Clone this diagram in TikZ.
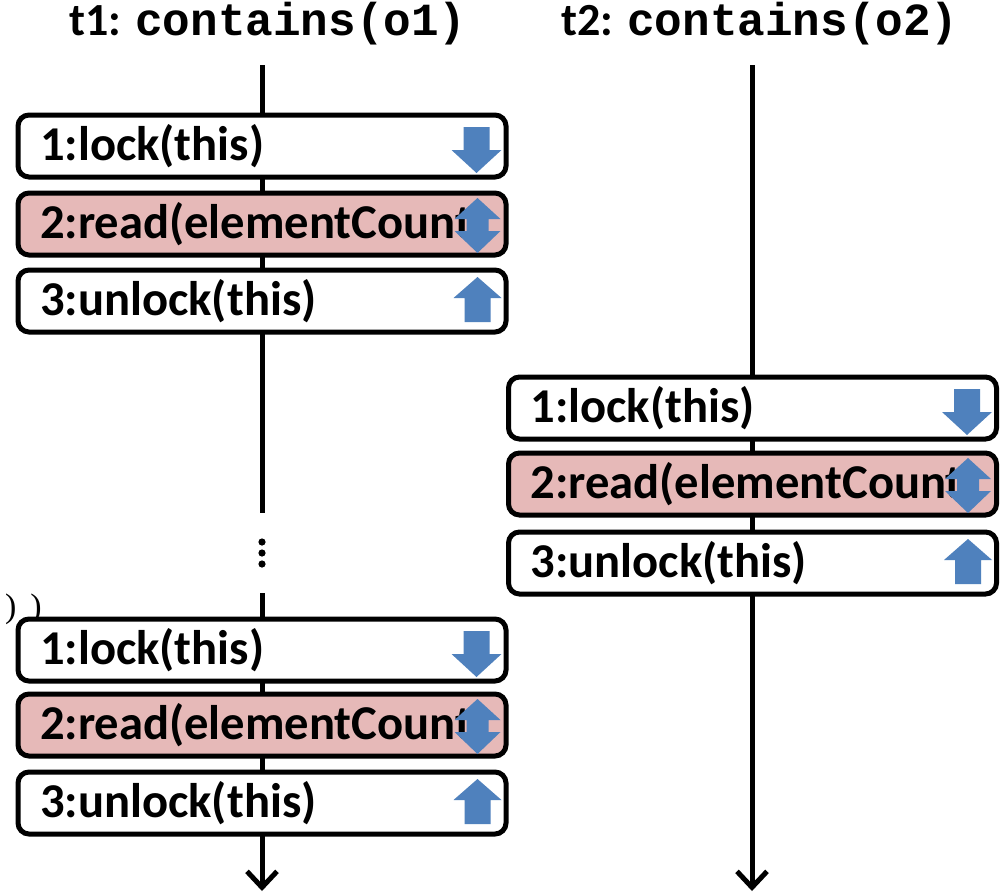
\documentclass[tikz,border=0pt]{standalone}
\usepackage{fontspec}
\setmainfont{Carlito}
\newfontfamily\codefont{Liberation Mono}
\newfontfamily\thinserif{Liberation Serif}
\usetikzlibrary{arrows.meta}

\definecolor{lockblue}{HTML}{4F81BD}
\definecolor{readpink}{HTML}{E6B9B8}

\tikzset{
  op/.style={draw=black, line width=5pt, rounded corners=11pt, fill=white,
    minimum width=488pt, minimum height=62pt, text width=444pt,
    inner xsep=22pt, inner ysep=0pt, align=left,
    font=\fontsize{48.6}{52}\selectfont\bfseries},
  readop/.style={op, fill=readpink},
  life/.style={line width=5pt},
  lifeend/.style={life, -{Straight Barb[length=16pt,width=30pt]}},
  title/.style={font=\fontsize{46}{50}\selectfont\bfseries, inner sep=0pt},
  dotmark/.style={fill=black, draw=none},
  pics/acqarrow/.style={code={
    \fill[lockblue] (-13,-19) -- (13,-19) -- (13,4) -- (25,4) -- (0,27)
      -- (-25,4) -- (-13,4) -- cycle;}},
  pics/relarrow/.style={code={
    \fill[lockblue] (-13,21) -- (13,21) -- (13,-3) -- (24,-3) -- (0,-24)
      -- (-24,-3) -- (-13,-3) -- cycle;}},
  pics/botharrow/.style={code={
    \fill[lockblue] (0,-26) -- (23,-5) -- (11,-5) -- (11,7) -- (23,7)
      -- (0,29) -- (-23,7) -- (-11,7) -- (-11,-5) -- (-23,-5) -- cycle;}},
}

\begin{document}
\begin{tikzpicture}[x=1pt,y=-1pt]
\useasboundingbox (0,0) rectangle (1004,894);

% thread headers
\node[title] (t1title) at (268,24) {t1: {\codefont\bfseries contains(o1)}};
\node[title] (t2title) at (760,24) {t2: {\codefont\bfseries contains(o2)}};

% lifelines
\coordinate (l1top) at (262,65);
\coordinate (l1gap) at (262,513);
\coordinate (l1resume) at (262,593);
\coordinate (l1end) at (262,891);
\coordinate (l2top) at (752,65);
\coordinate (l2end) at (752,891);

\draw[life] (l1top) -- (l1gap);
\draw[lifeend] (l1resume) -- (l1end);
\draw[lifeend] (l2top) -- (l2end);

% elided section
\fill[dotmark] (262,542) circle (3.6);
\fill[dotmark] (262,553) circle (3.6);
\fill[dotmark] (262,564) circle (3.6);

% stray text fragment at the left margin
\node[font=\thinserif\fontsize{34}{36}\selectfont, anchor=east, inner sep=0pt]
  (frag) at (42,609) {(\hspace{4pt})\hspace{14pt})};

% t1, first call
\node[op] (a1) at (262,146) {1:lock(this)};
\node[readop] (a2) at (262,224) {2:read(elementCount)};
\node[op] (a3) at (262,301) {3:unlock(this)};

% t1, later call
\node[op] (c1) at (262,650) {1:lock(this)};
\node[readop] (c2) at (262,725) {2:read(elementCount)};
\node[op] (c3) at (262,803) {3:unlock(this)};

% t2
\node[op] (b1) at (752.5,408) {1:lock(this)};
\node[readop] (b2) at (752.5,484) {2:read(elementCount)};
\node[op] (b3) at (752.5,563) {3:unlock(this)};

% lock access markers
\foreach \n in {a1,b1,c1} { \pic at ([xshift=-32pt]\n.east) {acqarrow}; }
\foreach \n in {a2,b2,c2} { \pic at ([xshift=-31pt]\n.east) {botharrow}; }
\foreach \n in {a3,b3,c3} { \pic at ([xshift=-31pt]\n.east) {relarrow}; }
\end{tikzpicture}
\end{document}
